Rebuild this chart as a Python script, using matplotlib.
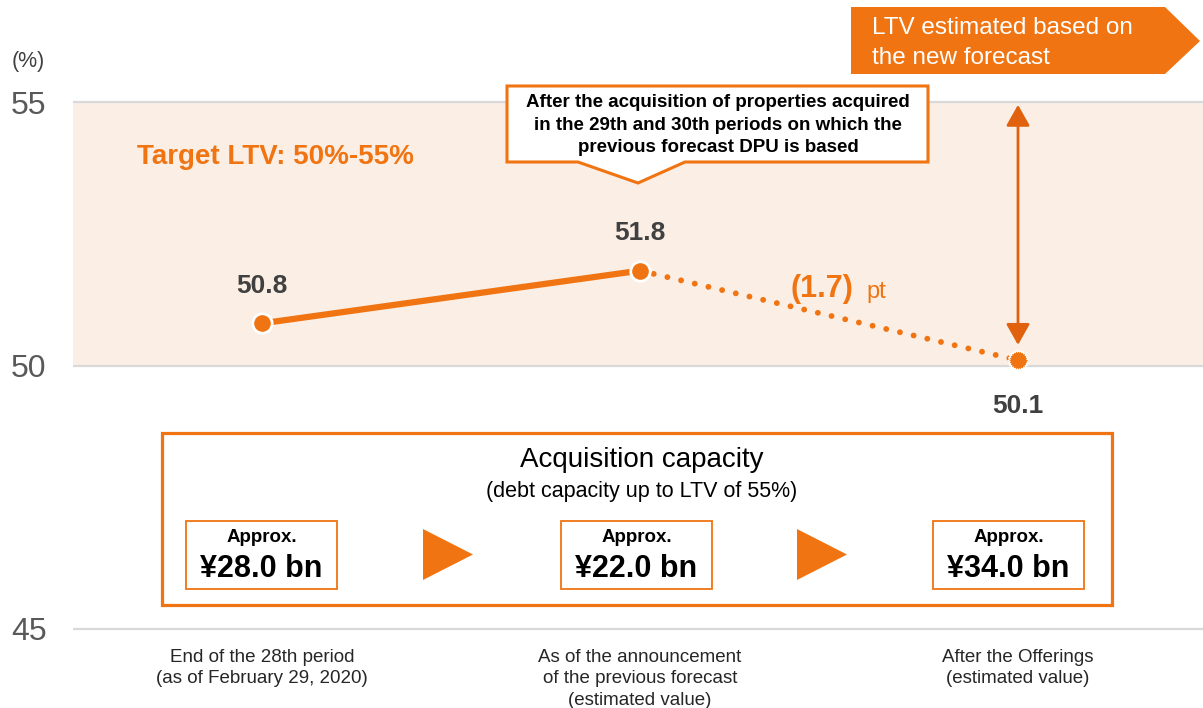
import numpy as np
import matplotlib
matplotlib.use('Agg')
import matplotlib.pyplot as plt
from matplotlib.patches import Polygon, Rectangle
from matplotlib.transforms import Affine2D

plt.rcParams['font.family'] = ['Liberation Sans', 'DejaVu Sans']

# chart values
periods = ["End of the 28th period\n(as of February 29, 2020)",
           "As of the announcement\nof the previous forecast\n(estimated value)",
           "After the Offerings\n(estimated value)"]
ltv = [50.8, 51.8, 50.1]
ltv_labels = ["50.8", "51.8", "50.1"]
target_low, target_high = 50, 55
yticks = [45, 50, 55]
capacity = ["\u00a528.0 bn", "\u00a522.0 bn", "\u00a534.0 bn"]
change_pt = "(1.7)"

ORANGE = '#F07412'
DARK_ORANGE = '#E0620E'
BAND = '#FBEEE5'
GRID = '#D9D9D9'
TXT = '#262626'

W, H = 1203, 708
fig = plt.figure(figsize=(W / 100, H / 100), dpi=100)
# pixel coordinates with origin at top-left, used for the annotation layout
pix = Affine2D().scale(1 / 100, -1 / 100).translate(0, H / 100) + fig.dpi_scale_trans

ax = fig.add_axes([73 / W, 0, 1134 / W, 1])
ppu = (629 - 102) / 10.0
ax.set_xlim(-0.5, 2.5)
ax.set_ylim(45 - (H - 629) / ppu, 55 + 102 / ppu)
for s in ax.spines.values():
    s.set_visible(False)
ax.spines['bottom'].set_position(('data', 45))

ax.set_yticks(yticks)
ax.set_yticklabels([str(t) for t in yticks])
ax.tick_params(axis='y', length=0, pad=19, labelsize=23, labelcolor='#595959')
ax.set_xticks(range(len(periods)))
ax.set_xticklabels(periods, fontsize=13.5, color=TXT, linespacing=1.33)
ax.tick_params(axis='x', length=0, pad=14.5)

# target band and gridlines
ax.axhspan(target_low, target_high, color=BAND, lw=0, zorder=0)
for t in yticks:
    ax.axhline(t, color=GRID, lw=1.6, zorder=0.5)

x = np.arange(len(ltv))
ax.plot(x[:2], ltv[:2], color=ORANGE, lw=4.5, solid_capstyle='round', zorder=3)
ax.plot(x[1:], ltv[1:], color=ORANGE, lw=4.2, ls=(0, (0.01, 2.4)),
        dash_capstyle='round', zorder=3)
ax.plot(x[:2], ltv[:2], 'o', ms=14, mfc=ORANGE, mec='white', mew=2, zorder=5)

# starburst marker for the estimated value
n = 24
ang = np.linspace(0, 2 * np.pi, 2 * n, endpoint=False)
rad = np.where(np.arange(2 * n) % 2 == 0, 1.0, 0.8)
burst = np.column_stack([rad * np.cos(ang), rad * np.sin(ang)])
ax.plot(x[2:], ltv[2:], marker=burst, ms=15, mfc=ORANGE, mec='white', mew=0.8,
        ls='none', zorder=5)

offsets = [27, 27, -33]
for xi, yi, lab, off in zip(x, ltv, ltv_labels, offsets):
    ax.annotate(lab, (xi, yi), xytext=(0, off), textcoords='offset points',
                ha='center', va='center', fontsize=19, fontweight='bold',
                color='#404040', zorder=6)

# double arrow showing the gap to the upper limit
ax.annotate('', xy=(x[2], target_high), xytext=(x[2], ltv[2]),
            arrowprops=dict(arrowstyle='<|-|>,head_length=0.8,head_width=0.45',
                            mutation_scale=16, color=DARK_ORANGE, lw=2,
                            shrinkA=11, shrinkB=2), zorder=4)

ax.text(12, 62, '(%)', transform=pix, ha='left', va='center', fontsize=15.5, color='#404040')
ax.text(137, 157, 'Target LTV: 50%-55%', transform=pix, ha='left', va='center',
        fontsize=20, fontweight='bold', color=ORANGE)
ax.text(790, 289, change_pt, transform=pix, ha='left', va='center',
        fontsize=22, fontweight='bold', color=ORANGE)
ax.text(866, 292, 'pt', transform=pix, ha='left', va='center', fontsize=17, color=ORANGE)

# callout above the middle point
callout = Polygon([(507, 86), (928, 86), (928, 162), (685, 162), (638, 183),
                   (578, 162), (507, 162)], closed=True, transform=pix,
                  fc='white', ec=ORANGE, lw=2.2, clip_on=False, zorder=6)
ax.add_patch(callout)
ax.text(718, 125, "After the acquisition of properties acquired\n"
        "in the 29th and 30th periods on which the\n"
        "previous forecast DPU is based", transform=pix, ha='center', va='center',
        fontsize=13.5, fontweight='bold', color='black', linespacing=1.42, zorder=7)

# arrow banner top right
banner = Polygon([(851, 7), (1165, 7), (1200, 41), (1165, 74), (851, 74)], closed=True,
                 transform=pix, fc=ORANGE, ec='none', clip_on=False, zorder=6)
ax.add_patch(banner)
ax.text(872, 43, "LTV estimated based on\nthe new forecast", transform=pix,
        ha='left', va='center', fontsize=17.5, color='white', linespacing=1.49, zorder=7)

# acquisition capacity panel
ax.add_patch(Rectangle((162, 433), 950, 172, transform=pix, fc='white', ec=ORANGE,
                       lw=2.3, clip_on=False, zorder=6))
ax.text(642, 460, "Acquisition capacity", transform=pix, ha='center', va='center',
        fontsize=20, color='black', zorder=7)
ax.text(642, 492, "(debt capacity up to LTV of 55%)", transform=pix, ha='center',
        va='center', fontsize=15.5, color='black', zorder=7)

box_left = [186, 561, 933]
for bl, cap in zip(box_left, capacity):
    ax.add_patch(Rectangle((bl, 521), 151, 68, transform=pix, fc='white', ec=ORANGE,
                           lw=1.3, clip_on=False, zorder=7))
    ax.text(bl + 75.5, 538, "Approx.", transform=pix, ha='center', va='center',
            fontsize=13.5, fontweight='bold', color='black', zorder=8)
    ax.text(bl + 75.5, 569, cap, transform=pix, ha='center', va='center',
            fontsize=22, fontweight='bold', color='black', zorder=8)

for tl in [423, 797]:
    ax.add_patch(Polygon([(tl, 529), (tl + 50, 554.5), (tl, 580)], closed=True,
                         transform=pix, fc=ORANGE, ec='none', clip_on=False, zorder=7))

fig.savefig('out.png', dpi=100)
